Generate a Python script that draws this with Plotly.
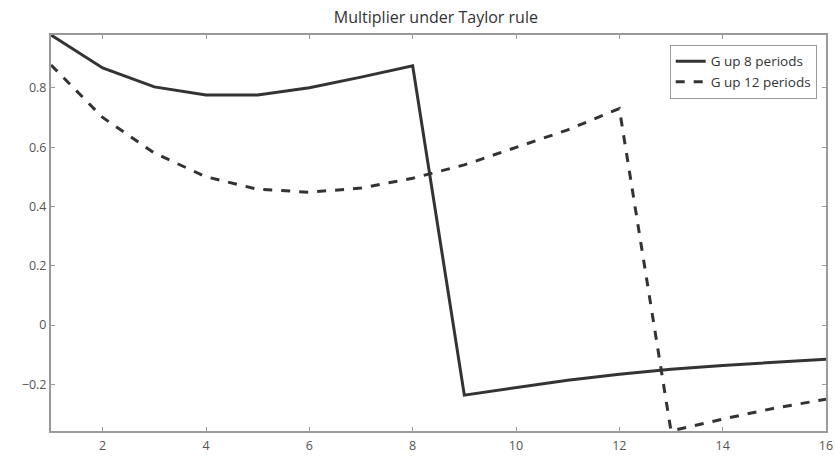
import plotly.graph_objects as go

# Periods and multiplier paths for the two spending scenarios
periods = list(range(1, 17))
g_up_8 = [0.978, 0.867, 0.803, 0.776, 0.776, 0.800, 0.836, 0.874,
          -0.236, -0.210, -0.186, -0.166, -0.149, -0.136, -0.125, -0.115]
g_up_12 = [0.877, 0.700, 0.580, 0.500, 0.458, 0.448, 0.462, 0.495,
           0.540, 0.600, 0.658, 0.730, -0.357, -0.317, -0.280, -0.250]

x_ticks = [2, 4, 6, 8, 10, 12, 14, 16]
y_ticks = [-0.2, 0, 0.2, 0.4, 0.6, 0.8]
y_tick_text = ["\u22120.2", "0", "0.2", "0.4", "0.6", "0.8"]

line_color = "#333333"
axis_color = "#9a9a9a"
font_family = "Open Sans, Liberation Sans, sans-serif"

fig = go.Figure()
fig.add_trace(go.Scatter(x=periods, y=g_up_8, mode="lines", name="G up 8 periods",
                         line=dict(color=line_color, width=3)))
fig.add_trace(go.Scatter(x=periods, y=g_up_12, mode="lines", name="G up 12 periods",
                         line=dict(color=line_color, width=3, dash="dash")))

axis_common = dict(showline=True, linecolor=axis_color, linewidth=2, mirror="ticks",
                   ticks="inside", ticklen=4, tickcolor=axis_color, tickwidth=1,
                   showgrid=False, zeroline=False, automargin=False,
                   tickfont=dict(family=font_family, size=12.5, color="#555555"))

fig.update_layout(
    width=835, height=457,
    margin=dict(l=51, r=9, t=35, b=26),
    paper_bgcolor="white", plot_bgcolor="white",
    title=dict(text="Multiplier under Taylor rule", x=0.522, xanchor="center",
               y=0.962, yanchor="middle",
               font=dict(family=font_family, size=16, color="#333333")),
    xaxis=dict(range=[1, 16], tickvals=x_ticks, ticklabelstandoff=2, **axis_common),
    yaxis=dict(range=[-0.357, 0.978], tickvals=y_ticks, ticktext=y_tick_text, **axis_common),
    legend=dict(x=0.988, y=0.975, xanchor="right", yanchor="top",
                bordercolor=axis_color, borderwidth=1, bgcolor="white",
                font=dict(family=font_family, size=13.5, color="#333333"),
                tracegroupgap=0),
    showlegend=True,
)

fig.write_html("out.html")
